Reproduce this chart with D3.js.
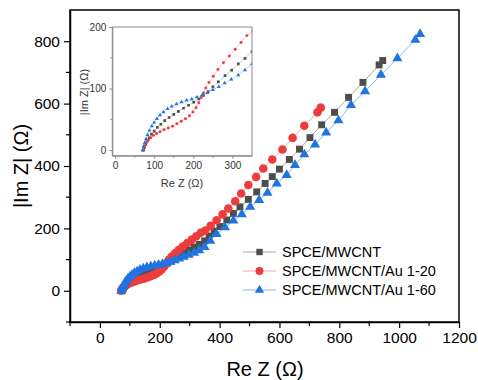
<!DOCTYPE html>
<html>
<head>
<meta charset="utf-8">
<script src="https://cdn.jsdelivr.net/npm/d3@7"></script>
<style>
body{margin:0;background:#fff;}
text{font-family:"Liberation Sans",Arial,sans-serif;}
</style>
</head>
<body>
<div id="chart"></div>
<script>
// series names
const seriesNames=["SPCE/MWCNT","SPCE/MWCNT/Au 1-20","SPCE/MWCNT/Au 1-60"];
// Re Z / Im Z values (ohm)
const blackRe=[73,75,78,82,87,93,100,108,117,127,138,150,162,175,188,201,214,226,238,250,264,281,298,315,332,350,365,382,401,424,446,468,496,524,552,576,600,633,667,702,741,784,831,879,933,945];
const blackIm=[0,4,9,14,20,26,31,37,42,48,53,58,63,68,73,78,83,89,95,103,111,121,130,140,149,160,175,191,206,227,248,269,293,317,344,366,390,421,454,491,532,572,620,668,724,738];
const redRe=[71,73,76,80,85,91,98,106,115,125,136,147,158,169,180,190,199,207,214,220,226,232,240,251,263,277,292,307,322,337,352,370,390,410,429,452,472,496,522,546,576,610,644,683,727,738];
const redIm=[0,4,8,12,16,20,24,27,30,33,36,39,43,47,51,56,62,69,77,85,93,101,110,120,131,142,153,164,175,186,193,208,226,245,264,287,312,339,365,392,421,453,490,529,572,587];
const blueRe=[71,73,76,79,83,88,94,100,107,115,124,134,145,157,170,183,196,209,222,236,250,265,280,297,315,332,350,369,390,418,446,474,502,532,560,591,624,652,683,719,756,797,839,886,939,994,1054,1070];
const blueIm=[0,6,12,18,25,32,39,45,51,57,62,67,71,75,78,81,83,86,89,93,98,103,109,115,122,130,140,160,182,203,225,245,269,291,314,344,371,403,437,469,507,546,595,639,692,745,804,823];
// tick labels
const xTicks=[0,200,400,600,800,1000,1200];
const yTicks=[0,200,400,600,800];
const insetXTicks=[0,100,200,300];
const insetYTicks=[0,100,200];

const W=478,H=380;
const svg=d3.select("#chart").append("svg").attr("width",W).attr("height",H);

const series=[
  {name:seriesNames[0],re:blackRe,im:blackIm,fill:"#4d4d4d",line:"#a6a6a6",sym:d3.symbolSquare,size:48,isize:7},
  {name:seriesNames[1],re:redRe,im:redIm,fill:"#ee3b3b",line:"#f6a5a5",sym:d3.symbolCircle,size:58,isize:7},
  {name:seriesNames[2],re:blueRe,im:blueIm,fill:"#1f74e0",line:"#8ab6ee",sym:d3.symbolTriangle,size:44,isize:7}
];

// main plot
const x=d3.scaleLinear().domain([-100,1200]).range([70,459]);
const y=d3.scaleLinear().domain([-100,900]).range([322,10]);

svg.append("defs").append("clipPath").attr("id","clipMain")
  .append("rect").attr("x",70).attr("y",10).attr("width",389).attr("height",312);

function drawAxes(g,xs,ys,xt,yt,xmin,ymin,tl,ml,fs,pad,col){
  const xb=g.append("g").attr("transform","translate(0,"+ys.range()[0]+")")
    .call(d3.axisBottom(xs).tickValues(xt).tickFormat(d3.format("d")).tickSize(tl).tickPadding(pad).tickSizeOuter(0));
  const yl=g.append("g").attr("transform","translate("+xs.range()[0]+",0)")
    .call(d3.axisLeft(ys).tickValues(yt).tickFormat(d3.format("d")).tickSize(tl).tickPadding(pad).tickSizeOuter(0));
  [xb,yl].forEach(a=>{
    a.selectAll("text").style("font-size",fs+"px").attr("fill",col.text);
    a.selectAll("line").attr("stroke",col.axis);
    a.select(".domain").attr("stroke",col.axis);
  });
  // minor ticks
  g.append("g").selectAll("line").data(xmin).join("line")
    .attr("x1",d=>xs(d)).attr("x2",d=>xs(d))
    .attr("y1",ys.range()[0]).attr("y2",ys.range()[0]+ml).attr("stroke",col.axis);
  g.append("g").selectAll("line").data(ymin).join("line")
    .attr("y1",d=>ys(d)).attr("y2",d=>ys(d))
    .attr("x1",xs.range()[0]).attr("x2",xs.range()[0]-ml).attr("stroke",col.axis);
}

function drawSeries(g,xs,ys,small){
  series.forEach(s=>{
    const pts=s.re.map((r,i)=>[r,s.im[i]]);
    g.append("path").datum(pts).attr("fill","none").attr("stroke",s.line)
      .attr("stroke-width",small?0.6:1)
      .attr("d",d3.line().x(d=>xs(d[0])).y(d=>ys(d[1])));
    g.selectAll(null).data(pts).enter().append("path")
      .attr("transform",d=>"translate("+xs(d[0])+","+ys(d[1])+")")
      .attr("d",d3.symbol().type(s.sym).size(small?s.isize:s.size))
      .attr("fill",s.fill);
  });
}

const main=svg.append("g");
const mainData=main.append("g").attr("clip-path","url(#clipMain)");
drawSeries(mainData,x,y,false);

// frame
main.append("rect").attr("x",70).attr("y",10).attr("width",389).attr("height",312)
  .attr("fill","none").attr("stroke","#000").attr("stroke-width",1.5);
const axMain=main.append("g").attr("class","axes");
drawAxes(axMain,x,y,xTicks,yTicks,[-100,100,300,500,700,900,1100],[-100,100,300,500,700],6,4,15.5,4,{axis:"#000",text:"#000"});
axMain.selectAll(".domain").attr("stroke-width",1.5);
axMain.selectAll("line").attr("stroke-width",1.2);

svg.append("text").attr("x",265).attr("y",376).attr("text-anchor","middle")
  .style("font-size","20px").text("Re Z (Ω)");
svg.append("text").attr("transform","translate(28,166) rotate(-90)").attr("text-anchor","middle")
  .style("font-size","20px").text("|Im Z| (Ω)");

// legend
const leg=svg.append("g");
series.forEach((s,i)=>{
  const ly=252+i*19;
  leg.append("line").attr("x1",243).attr("x2",276).attr("y1",ly).attr("y2",ly)
    .attr("stroke",s.line).attr("stroke-width",1);
  leg.append("path").attr("transform","translate(259.5,"+ly+")")
    .attr("d",d3.symbol().type(s.sym).size(s.size*0.85)).attr("fill",s.fill);
  leg.append("text").attr("x",282).attr("y",ly).attr("dy","0.35em")
    .style("font-size","14.5px").text(s.name);
});

// inset
const xi=d3.scaleLinear().domain([-7,350]).range([112.3,252]);
const yi=d3.scaleLinear().domain([-9,200]).range([155.7,27]);
svg.select("defs").append("clipPath").attr("id","clipInset")
  .append("rect").attr("x",112.3).attr("y",27).attr("width",139.7).attr("height",128.7);
const inset=svg.append("g");
inset.append("rect").attr("x",112.3).attr("y",27).attr("width",139.7).attr("height",128.7)
  .attr("fill","#fff");
drawSeries(inset.append("g").attr("clip-path","url(#clipInset)"),xi,yi,true);
inset.append("rect").attr("x",112.3).attr("y",27).attr("width",139.7).attr("height",128.7)
  .attr("fill","none").attr("stroke","#8a8a8a").attr("stroke-width",1);
drawAxes(inset.append("g"),xi,yi,insetXTicks,insetYTicks,[50,150,250],[50,150],3,2,10,3,{axis:"#8a8a8a",text:"#333"});
inset.append("text").attr("x",182).attr("y",187).attr("text-anchor","middle")
  .style("font-size","11px").attr("fill","#333").text("Re Z (Ω)");
inset.append("text").attr("transform","translate(88,92) rotate(-90)").attr("text-anchor","middle")
  .style("font-size","11px").attr("fill","#333").text("|Im Z| (Ω)");
</script>
</body>
</html>
